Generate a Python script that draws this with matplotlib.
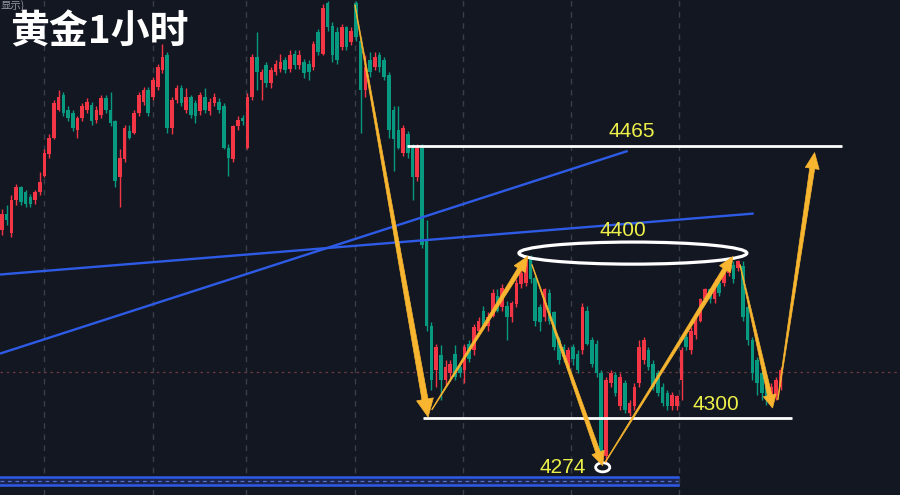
import matplotlib
matplotlib.use("Agg")
import matplotlib.pyplot as plt
from matplotlib.patches import Ellipse, Polygon
import numpy as np

# ---------------- data (hourly gold candles, price units) ----------------
opens = [4414,4424,4412,4432,4440,4437,4434,4432,4437,4447,4460,4470,4487,4496,4487,4485,4475,4482,4487,4490,
         4481,4484,4494,4487,4480,4446,4457,4474,4473,4485,4492,4499,4495,4501,4511,4520,4476,4493,4500,4487,
         4495,4491,4486,4495,4486,4491,4492,4489,4464,4457,4477,4482,4464,4495,4519,4505,4514,4503,4510,4512,
         4517,4512,4521,4514,4516,4515,4513,4534,4521,4552,4538,4534,4525,4537,4528,4552,4529,4499,4517,4513,
         4520,4517,4508,4487,4475,4461,4472,4464,4446,4464,4408,4356,4329,4338,4323,4327,4339,4331,4329,4345,
         4341,4353,4365,4356,4362,4374,4367,4368,4361,4369,4381,4382,4397,4385,4367,4361,4376,4364,4347,4343,
         4331,4343,4339,4341,4365,4347,4345,4327,4277,4321,4326,4307,4321,4303,4307,4321,4335,4341,4333,4327,
         4319,4315,4307,4307,4323,4349,4341,4350,4359,4372,4378,4372,4382,4382,4388,4393,4391,4392,4367,4347,
         4335,4327,4319,4309,4313,4319]
closes = [4424,4420,4432,4440,4431,4430,4430,4437,4443,4461,4470,4491,4495,4485,4482,4476,4482,4489,4492,4480,
          4487,4494,4487,4479,4444,4458,4476,4470,4485,4496,4499,4485,4505,4513,4519,4476,4493,4500,4491,4495,
          4484,4483,4496,4487,4492,4495,4487,4464,4458,4477,4481,4480,4495,4519,4510,4510,4503,4511,4515,4516,
          4511,4520,4514,4520,4509,4510,4527,4522,4549,4537,4520,4517,4537,4525,4535,4531,4499,4513,4510,4519,
          4513,4507,4475,4469,4464,4476,4461,4446,4464,4405,4356,4323,4343,4323,4331,4333,4325,4327,4343,4336,
          4355,4359,4356,4361,4376,4365,4379,4361,4370,4382,4388,4396,4384,4359,4358,4378,4359,4343,4335,4337,
          4341,4336,4329,4367,4345,4333,4327,4277,4323,4327,4315,4325,4305,4309,4319,4343,4347,4331,4319,4315,
          4309,4307,4314,4313,4341,4343,4353,4359,4372,4378,4372,4382,4376,4388,4394,4384,4395,4361,4347,4327,
          4321,4315,4311,4319,4323,4329]
highs = [4427,4429,4435,4442,4441,4438,4436,4438,4449,4463,4472,4493,4499,4498,4489,4487,4483,4491,4494,4492,
         4489,4496,4496,4498,4481,4463,4478,4478,4487,4498,4501,4501,4507,4515,4527,4522,4495,4502,4502,4500,
         4496,4493,4498,4500,4494,4497,4494,4491,4466,4478,4483,4484,4497,4521,4534,4512,4516,4513,4517,4521,
         4519,4523,4523,4523,4518,4517,4529,4536,4551,4553,4540,4537,4539,4538,4537,4553,4531,4520,4522,4522,
         4522,4519,4510,4489,4489,4478,4474,4466,4466,4466,4420,4358,4345,4344,4335,4335,4344,4333,4345,4347,
         4357,4361,4368,4364,4378,4378,4381,4371,4371,4384,4390,4397,4399,4387,4369,4379,4378,4365,4349,4345,
         4343,4345,4341,4370,4368,4349,4347,4329,4325,4329,4328,4327,4323,4311,4321,4347,4349,4343,4335,4329,
         4321,4317,4316,4314,4343,4351,4355,4361,4373,4379,4379,4384,4384,4390,4396,4395,4396,4395,4369,4349,
         4337,4329,4321,4321,4325,4331]
lows = [4411,4417,4410,4429,4429,4428,4428,4430,4435,4446,4458,4469,4486,4483,4480,4474,4470,4480,4485,4478,
        4479,4482,4485,4477,4440,4428,4455,4469,4472,4483,4490,4483,4493,4499,4509,4473,4472,4491,4489,4485,
        4482,4479,4484,4485,4484,4489,4485,4463,4447,4455,4475,4478,4463,4493,4499,4493,4501,4500,4508,4510,
        4509,4510,4512,4512,4506,4505,4511,4520,4520,4535,4516,4515,4523,4523,4526,4529,4473,4495,4507,4511,
        4510,4505,4470,4450,4463,4459,4458,4432,4444,4403,4353,4317,4319,4311,4320,4324,4323,4325,4321,4334,
        4338,4351,4354,4353,4361,4364,4365,4347,4358,4367,4379,4380,4382,4356,4353,4359,4357,4341,4333,4334,
        4329,4332,4327,4339,4344,4331,4325,4276,4273,4319,4313,4305,4303,4301,4305,4319,4333,4329,4317,4313,
        4307,4305,4305,4305,4311,4341,4339,4348,4358,4370,4370,4370,4374,4380,4386,4382,4389,4359,4344,4323,
        4314,4311,4308,4307,4311,4317]

day_breaks = [8.9, 32.0, 51.7, 74.8, 97.7, 120.6, 143.4]
current_price = 4328

# levels / annotations (candle index, price)
level_4465 = (85.8, 178.0, 4465)
level_4300 = (89.2, 167.4, 4300)
blue_line1 = [(-0.42, 4339), (132.6, 4462)]
blue_line2 = [(-0.42, 4387), (159.3, 4424)]
ellipse_4400 = (133.7, 4400, 48.3, 13.4)
circle_4274 = (127.3, 4270, 3.0, 5.5)
band_bottom = (-0.42, 143.2, 4259, 4264)

arrows = [((74.8, 4550.6), (90.3, 4300.5), 6.0, 17, 18),
          ((91.1, 4305), (111.4, 4398), 4.5, 13, 15),
          ((112.3, 4393), (127.3, 4271), 4.5, 13, 14),
          ((127.8, 4273), (154.9, 4398), 4.5, 13, 15),
          ((156.4, 4393), (163.3, 4306), 4.5, 13, 13),
          ((164.4, 4311), (172.2, 4461), 5.0, 14, 16)]

labels = [("4465", 133.5, 4474), ("4400", 131.6, 4414), ("4300", 151.3, 4308), ("4274", 118.9, 4270)]

# ---------------- style ----------------
BG = '#131722'
UP = '#f23645'
DOWN = '#089981'
GOLD = '#f7b530'
YEL = '#eef04a'
BLUE = '#2e5be6'

fig = plt.figure(figsize=(9, 4.95), dpi=100)
fig.patch.set_facecolor(BG)
ax = fig.add_axes([0, 0, 1, 1])
ax.set_facecolor(BG)
ax.set_xlim(-0.42, 190.3)
ax.set_ylim(4253.2, 4553.6)
ax.axis('off')

for xb in day_breaks:
    ax.axvline(xb, color='#3a3e4a', lw=1, ls=(0, (4, 4)), zorder=1)

ax.axhline(current_price, color='#6b3a40', lw=0.9, ls=(0, (2, 3)), zorder=1)

# bottom blue band
bx0, bx1, by0, by1 = band_bottom
ax.fill_between([bx0, bx1], by0, by1, color='#1b2550', zorder=2)
ax.plot([bx0, bx1], [by0, by0], color=BLUE, lw=1.8, zorder=3)
ax.plot([bx0, bx1], [by1, by1], color=BLUE, lw=1.8, zorder=3)
ax.plot([bx0, bx1], [(by0 + by1) / 2] * 2, color='#4f6fd0', lw=0.9, ls=(0, (3, 3)), zorder=3)

# candles
x = np.arange(len(closes))
o = np.array(opens, float)
c = np.array(closes, float)
h = np.array(highs, float)
l = np.array(lows, float)
cols = np.where(c >= o, UP, DOWN)
ax.vlines(x, l, h, colors=cols, lw=1.0, zorder=4)
bottoms = np.minimum(o, c)
heights = np.maximum(np.abs(c - o), 0.8)
ax.bar(x, heights, bottom=bottoms, width=0.76, color=cols, edgecolor=cols, lw=0, zorder=5)

# blue trend lines
for ln in (blue_line1, blue_line2):
    ax.plot([ln[0][0], ln[1][0]], [ln[0][1], ln[1][1]], color=BLUE, lw=1.7, zorder=6,
            solid_capstyle='butt')

# white levels
for x0, x1, p in (level_4465, level_4300):
    ax.plot([x0, x1], [p, p], color='white', lw=2.0, zorder=6, solid_capstyle='butt')

cx, cy, w, hh = ellipse_4400
ax.add_patch(Ellipse((cx, cy), w, hh, fill=False, ec='white', lw=2.3, zorder=7))
cx, cy, w, hh = circle_4274
ax.add_patch(Ellipse((cx, cy), w, hh, fill=False, ec='white', lw=2.0, zorder=7))

# tapered arrows (computed in pixel space, drawn in data space)
fig.canvas.draw()
T = ax.transData
Ti = T.inverted()
for (p0, p1, ws, hw, hl) in arrows:
    a = T.transform(p0)
    b = T.transform(p1)
    d = b - a
    L = np.hypot(*d)
    u = d / L
    n = np.array([-u[1], u[0]])
    base = b - u * hl
    wt = 0.6
    pts = [a + n * wt / 2, base + n * ws / 2, base + n * hw / 2, b,
           base - n * hw / 2, base - n * ws / 2, a - n * wt / 2]
    ax.add_patch(Polygon(Ti.transform(np.array(pts)), closed=True, fc=GOLD, ec=GOLD,
                         lw=0.5, zorder=8))

for txt, lx, ly in labels:
    ax.text(lx, ly, txt, color=YEL, fontsize=15, ha='center', va='center',
            family=['Liberation Sans', 'DejaVu Sans'], zorder=9)

fig.text(10 / 900, 1 - 32 / 495, '黄金1小时', color='white', fontsize=28, fontweight='bold',
         ha='left', va='center', family=['Noto Sans CJK SC', 'DejaVu Sans'])
fig.text(0.001, 0.999, '显示)', color='#9598a1', fontsize=7.5, ha='left', va='top',
         family=['Noto Sans CJK SC', 'DejaVu Sans'])

fig.savefig('out.png', dpi=100, facecolor=BG)
